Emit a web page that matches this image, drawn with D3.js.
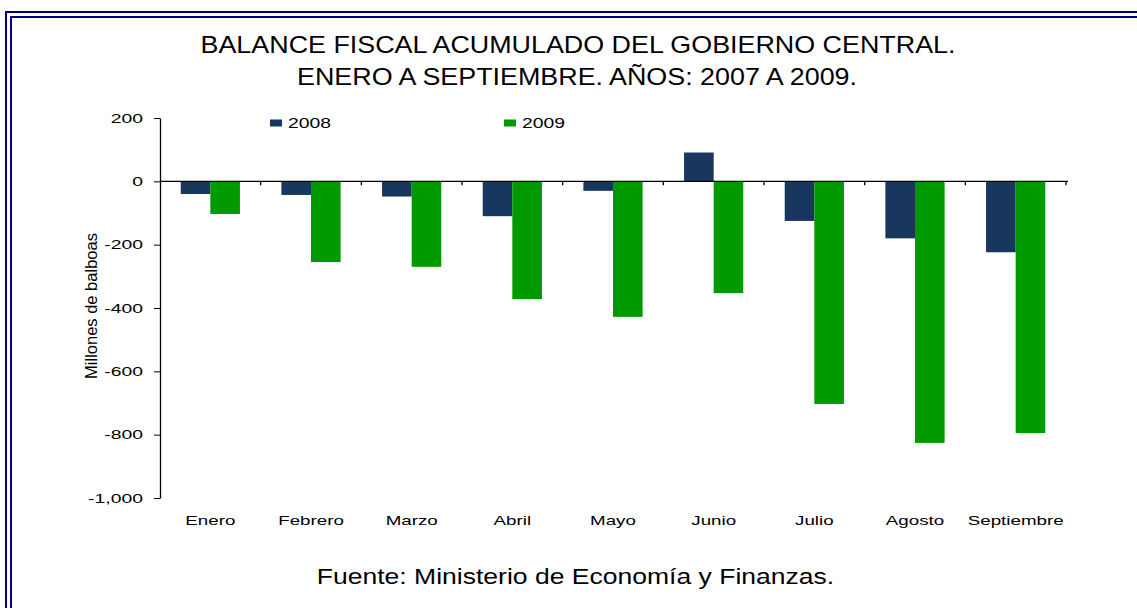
<!DOCTYPE html>
<html><head><meta charset="utf-8">
<script src="https://cdn.jsdelivr.net/npm/d3@7"></script>
<style>body{margin:0;background:#fff}svg{display:block}</style>
</head><body>
<svg id="c" width="1137" height="608"></svg>
<script>
const categories = ["Enero","Febrero","Marzo","Abril","Mayo","Junio","Julio","Agosto","Septiembre"];
const seriesNames = ["2008","2009"];
const values2008 = [-40,-43,-48,-110,-30,91,-125,-180,-224];
const values2009 = [-103,-255,-270,-372,-428,-353,-703,-826,-795];
const yTicks = [200,0,-200,-400,-600,-800,-1000];
const colors = ["#17375e","#009900"];
const FONT = "'Liberation Sans', Arial, sans-serif";

const svg = d3.select("#c");
// border
svg.append("rect").attr("x",6).attr("y",12).attr("width",1160).attr("height",640)
  .attr("fill","none").attr("stroke","#000080").attr("stroke-width",2);
svg.append("rect").attr("x",11).attr("y",17).attr("width",1150).attr("height",630)
  .attr("fill","none").attr("stroke","#000080").attr("stroke-width",2);

function sText(parent, x, y, sx, size, anchor, txt){
  const g = parent.append("g").attr("transform",`translate(${x},${y}) scale(${sx},1)`);
  g.append("text").attr("x",0).attr("y",0).attr("text-anchor",anchor)
    .attr("font-family",FONT).attr("font-size",size).attr("fill","#000").text(txt);
  return g;
}

const x0 = 160, x1 = 1066;
const y = d3.scaleLinear().domain([-1000,200]).range([498,118]);
const x = d3.scaleBand().domain(categories).range([x0,x1]).paddingInner(0).paddingOuter(0);
const inner = d3.scaleBand().domain(seriesNames).range([0,x.bandwidth()]).paddingOuter(0.7).paddingInner(0);

// title
sText(svg, 578, 52.5, 1.12, 24, "middle", "BALANCE FISCAL ACUMULADO DEL GOBIERNO CENTRAL.");
sText(svg, 577, 85, 1.12, 24, "middle", "ENERO A SEPTIEMBRE. AÑOS: 2007 A 2009.");

// bars
const data = categories.map((c,i)=>({c, v:[values2008[i], values2009[i]]}));
const g = svg.append("g");
data.forEach(d=>{
  d.v.forEach((v,j)=>{
    g.append("rect")
      .attr("x", x(d.c)+inner(seriesNames[j]))
      .attr("width", inner.bandwidth())
      .attr("y", y(Math.max(0,v)))
      .attr("height", Math.abs(y(v)-y(0)))
      .attr("fill", colors[j]);
  });
});

// y axis
const yAxis = d3.axisLeft(y).tickValues(yTicks).tickSize(6).tickSizeOuter(0)
  .tickFormat(d=>d3.format(",")(d).replace("−","-"));
const ya = svg.append("g").attr("transform",`translate(${x0},0)`).call(yAxis);
ya.select(".domain").attr("stroke","#000").attr("stroke-width",1.3);
ya.selectAll(".tick line").attr("stroke","#000");
ya.selectAll(".tick text").attr("font-family",FONT).attr("font-size",12.5).attr("fill","#000")
  .attr("x",-17/1.55).attr("transform","scale(1.55,1)");

// x axis line at zero with ticks between categories
const xa = svg.append("g").attr("transform",`translate(0,${y(0)})`);
xa.append("line").attr("x1",x0).attr("x2",x1+2).attr("stroke","#000").attr("stroke-width",1.3);
categories.forEach((c,i)=>{
  const xb = x(c)+x.bandwidth();
  xa.append("line").attr("x1",xb).attr("x2",xb).attr("y1",0).attr("y2",4).attr("stroke","#000").attr("stroke-width",1.3);
});

// category labels
categories.forEach(c=>{
  sText(svg, x(c)+x.bandwidth()/2, 524.5, 1.5, 12.5, "middle", c);
});

// y label
svg.append("g").attr("transform","translate(97,306) rotate(-90)")
  .append("text").attr("text-anchor","middle").attr("font-family",FONT)
  .attr("font-size",16.5).attr("fill","#000").attr("transform","scale(1,1)").text("Millones de balboas");

// legend
const legX = [270, 504];
seriesNames.forEach((s,i)=>{
  svg.append("rect").attr("x",legX[i]).attr("y",119.5).attr("width",12).attr("height",7).attr("fill",colors[i]);
  sText(svg, legX[i]+18, 128, 1.38, 14, "start", s);
});

// footer
sText(svg, 575.5, 584, 1.24, 21.4, "middle", "Fuente: Ministerio de Economía y Finanzas.");
</script>
</body></html>
